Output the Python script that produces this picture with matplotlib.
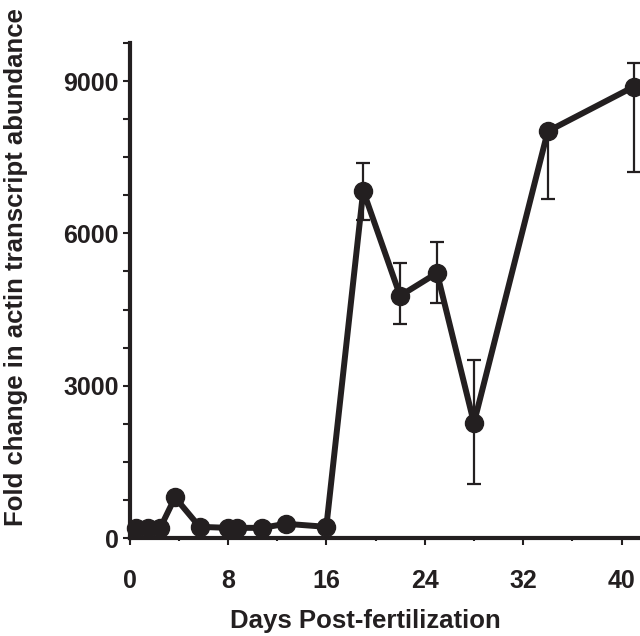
import matplotlib
matplotlib.use("Agg")
import matplotlib.pyplot as plt
from matplotlib.ticker import MultipleLocator

days = [0.5, 1.5, 2.5, 3.7, 5.7, 8.0, 8.7, 10.8, 12.7, 16.0, 19, 22, 25, 28, 34, 41]
fold = [200, 200, 200, 800, 220, 200, 200, 200, 280, 220, 6840, 4770, 5220, 2265, 8010, 8890]
err_low = [0, 0, 0, 0, 0, 0, 0, 0, 0, 0, 580, 550, 590, 1200, 1340, 1675]
err_high = [0, 0, 0, 0, 0, 0, 0, 0, 0, 0, 550, 650, 610, 1240, 0, 470]

x_ticks = [0, 8, 16, 24, 32, 40]
y_ticks = [0, 3000, 6000, 9000]
x_label = "Days Post-fertilization"
y_label = "Fold change in actin transcript abundance"

col = "#231f20"
plt.rcParams['font.family'] = ['Liberation Sans', 'DejaVu Sans']

fig = plt.figure(figsize=(6.4, 6.36), dpi=100)
ax = fig.add_axes([129.5 / 640, 98 / 636, (640 - 129.5) / 640, (538 - 43) / 636])

# error bars (only where present)
ex = [d for d, l, h in zip(days, err_low, err_high) if l or h]
ey = [f for f, l, h in zip(fold, err_low, err_high) if l or h]
el = [l for l, h in zip(err_low, err_high) if l or h]
eh = [h for l, h in zip(err_low, err_high) if l or h]
ax.errorbar(ex, ey, yerr=[el, eh], fmt='none', ecolor=col, elinewidth=1.6,
            capsize=4.8, capthick=1.6, zorder=2)
ax.plot(days, fold, color=col, lw=4.3, marker='o', ms=13, mfc=col, mec=col,
        zorder=3, clip_on=False)

ax.set_xlim(0, 41.5)
ax.set_ylim(0, 9750)
ax.set_xticks(x_ticks)
ax.set_yticks(y_ticks)
ax.xaxis.set_minor_locator(MultipleLocator(4))
ax.yaxis.set_minor_locator(MultipleLocator(750))

for s in ['top', 'right']:
    ax.spines[s].set_visible(False)
for s in ['left', 'bottom']:
    ax.spines[s].set_linewidth(3)
    ax.spines[s].set_color(col)

ax.tick_params(axis='both', which='major', direction='out', width=1.5, color=col,
               labelsize=18, labelcolor=col)
ax.tick_params(axis='x', which='major', length=5, pad=17)
ax.tick_params(axis='y', which='major', length=5, pad=2.5)
ax.tick_params(axis='x', which='minor', length=2, width=1.5, color=col)
ax.tick_params(axis='y', which='minor', length=5, width=1.5, color=col)
for lab in ax.get_xticklabels() + ax.get_yticklabels():
    lab.set_fontweight('bold')

fig.text(365 / 640, (636 - 628) / 636, x_label, ha='center', va='baseline',
         fontsize=18.5, fontweight='bold', color=col)
fig.text(16 / 640, (636 - 267) / 636, y_label, ha='center', va='center',
         rotation=90, fontsize=18.5, fontweight='bold', color=col)

fig.savefig("out.png", dpi=100)
